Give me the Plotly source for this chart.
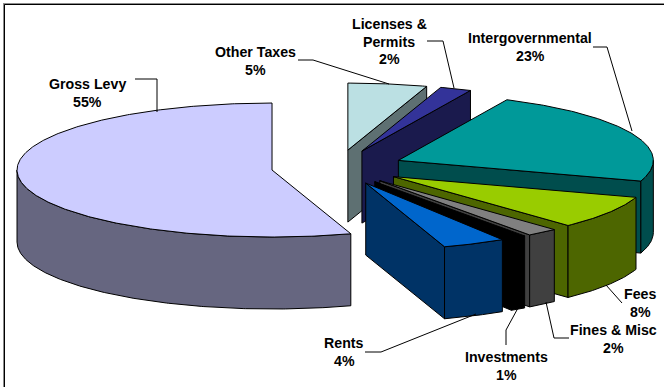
import math
import plotly.graph_objects as go

# Slice data, clockwise from twelve o'clock
categories = ["Other Taxes", "Licenses &<br>Permits", "Intergovernmental", "Fees",
              "Fines & Misc", "Investments", "Rents", "Gross Levy"]
shares = [5, 2, 23, 8, 2, 1, 4, 55]
top_colors = ["#BBE0E3", "#333399", "#009999", "#99CC00", "#808080", "#000000", "#0066CC", "#CCCCFF"]
wall_colors = ["#5E7072", "#1A1A4D", "#004D4D", "#4D6600", "#404040", "#000000", "#003366", "#666680"]

# Projection of the tilted pie, in page pixels
CX, CY = 337.5, 167.3
RX, RY = 255.0, 67.0
DEPTH = 72.0
EXPLODE = 0.26

# Label placement: centre x and first-line centre y of each text block
LINE_STEP = 17.5
label_pos = {
    "Other Taxes": (255, 52), "Licenses &<br>Permits": (389, 24), "Intergovernmental": (530, 38),
    "Fees": (640, 294), "Fines & Misc": (613, 330), "Investments": (506, 357),
    "Rents": (344, 343), "Gross Levy": (87, 84),
}
leaders = [
    [(135, 79), (157, 79), (157, 112)],
    [(298, 60), (313, 60), (389, 84)],
    [(427, 41), (443, 41), (454, 88)],
    [(593, 47), (607, 47), (632, 131)],
    [(606, 285), (622, 303)],
    [(546, 302), (554, 338), (569, 338)],
    [(518, 308), (506, 330), (506, 345)],
    [(476, 314), (381, 352), (365, 352)],
]


def rim(ax, ay, deg):
    t = math.radians(deg)
    return ax + RX * math.sin(t), ay - RY * math.cos(t)


def arc(ax, ay, a0, a1):
    n = max(2, int(abs(a1 - a0) * 2))
    return [rim(ax, ay, a0 + (a1 - a0) * i / n) for i in range(n + 1)]


def polygon(fig, pts, fill):
    fig.add_trace(go.Scatter(
        x=[p[0] for p in pts] + [pts[0][0]],
        y=[p[1] for p in pts] + [pts[0][1]],
        mode="lines", fill="toself", fillcolor=fill,
        line=dict(color="#000000", width=1), hoverinfo="skip", showlegend=False,
    ))


fig = go.Figure()

# Walk the slices back to front; Gross Levy goes first since nothing lies behind it
order = [7, 0, 1, 2, 3, 4, 5, 6]
starts, acc = [], 0.0
for s in shares:
    starts.append(acc)
    acc += s * 3.6

for i in order:
    a0 = starts[i]
    a1 = a0 + shares[i] * 3.6
    mid = math.radians((a0 + a1) / 2)
    ax = CX + EXPLODE * RX * math.sin(mid)
    ay = CY - EXPLODE * RY * math.cos(mid)

    # Radial wall on the trailing edge, when it faces the viewer
    if math.sin(math.radians(a1)) > 1e-6:
        ox, oy = rim(ax, ay, a1)
        polygon(fig, [(ax, ay), (ox, oy), (ox, oy + DEPTH), (ax, ay + DEPTH)], wall_colors[i])

    # Outer wall over the part of the rim in the front half
    w0, w1 = max(a0, 90.0), min(a1, 270.0)
    if w1 > w0:
        edge = arc(ax, ay, w0, w1)
        polygon(fig, edge + [(x, y + DEPTH) for x, y in reversed(edge)], wall_colors[i])

    # Top face
    polygon(fig, [(ax, ay)] + arc(ax, ay, a0, a1), top_colors[i])

# Leader lines
for pts in leaders:
    fig.add_trace(go.Scatter(
        x=[p[0] for p in pts], y=[p[1] for p in pts], mode="lines",
        line=dict(color="#000000", width=1), hoverinfo="skip", showlegend=False,
    ))

# Category and share labels, one annotation per line for a fixed line step
for name, share in zip(categories, shares):
    lx, ly = label_pos[name]
    for k, line in enumerate(name.split("<br>") + [f"{share}%"]):
        fig.add_annotation(
            x=lx, y=ly + k * LINE_STEP, text=f"<b>{line}</b>", showarrow=False,
            align="center", xanchor="center", yanchor="middle",
            font=dict(family="Liberation Sans", size=14.2, color="#000000"),
        )

# Chart frame, running past the right and bottom page edges
fig.add_shape(type="rect", x0=4, y0=4, x1=672, y1=395,
              line=dict(color="#8C8C8C", width=2), layer="above")
fig.add_shape(type="rect", x0=4.5, y0=4.5, x1=672, y1=395,
              line=dict(color="#000000", width=1), layer="above")

fig.update_layout(
    width=664, height=387, margin=dict(l=0, r=0, t=0, b=0),
    paper_bgcolor="#FFFFFF", plot_bgcolor="#FFFFFF", showlegend=False,
    xaxis=dict(range=[0, 664], visible=False, fixedrange=True),
    yaxis=dict(range=[387, 0], visible=False, fixedrange=True),
)
fig.write_html("out.html", config={"displayModeBar": False})
